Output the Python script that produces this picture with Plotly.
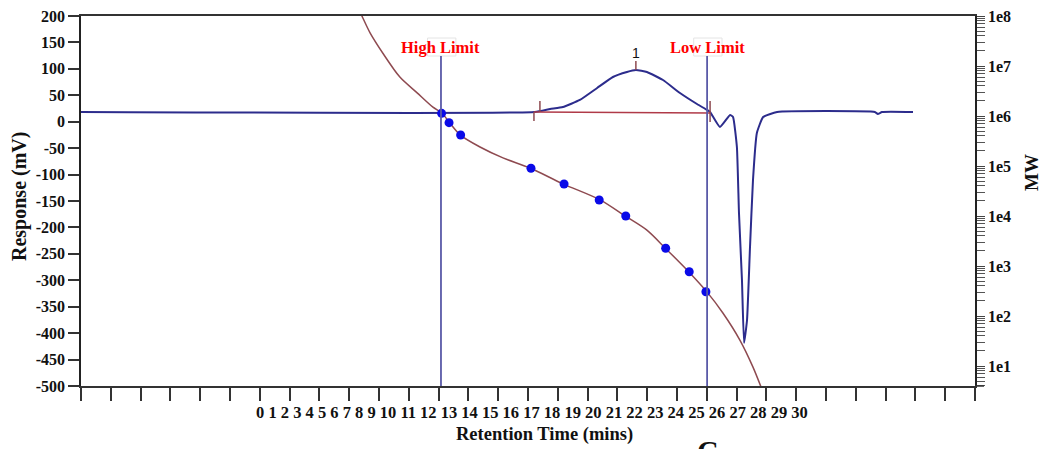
import plotly.graph_objects as go

# ---------------- data ----------------
# chromatogram (Retention time in minutes, response in mV)
chrom_time = [0, 15.23, 15.74, 16.17, 16.74, 17.32, 17.85, 18.32, 18.62, 18.99, 19.53,
              20.10, 20.67, 21.01, 21.11, 21.44, 21.78, 21.88, 22.01, 22.08, 22.18,
              22.25, 22.35, 22.45, 22.55, 22.68, 22.89, 23.36, 26.64, 26.74, 26.88, 27.92]
chrom_mv = [18.4, 18.4, 24.0, 27.8, 41.1, 63.8, 84.6, 94.1, 97.8, 94.1, 78.9,
            54.3, 33.5, 22.2, 18.4, -10.0, 12.7, 8.9, -47.8, -172.7, -299.5,
            -418.7, -375.1, -237.0, -110.3, -21.3, 8.9, 18.4, 18.4, 14.6, 18.4, 18.4]

# integration baseline of peak 1
intbase_time = [15.20, 21.11]
intbase_mv = [18.4, 16.5]

# integration tick markers (time, top mV, bottom mV)
mark_time = [15.20, 15.40, 18.62, 21.11]
mark_top = [18.4, 39.2, 114.9, 39.2]
mark_bottom = [1.3, 18.4, 97.8, -0.5]
peak_label = "1"
peak_label_mv = 130.0

# calibration curve (MW, log scale)
calib_time = [9.26, 9.42, 9.70, 10.13, 10.70, 11.28, 11.81, 12.11, 12.38, 12.72, 13.39,
              14.16, 15.07, 16.17, 17.42, 18.26, 18.99, 19.60, 20.40, 21.01, 21.54,
              22.11, 22.55, 22.82]
calib_mw = [1.6e8, 1.02e8, 4.6e7, 1.8e7, 6.0e6, 2.9e6, 1.5e6, 1.15e6, 7.2e5, 4.2e5, 2.4e5,
            1.45e5, 9.1e4, 4.4e4, 2.1e4, 1.0e4, 5.2e3, 2.3e3, 760, 300, 115,
            33, 9.5, 3.8]

# calibration standards
std_time = [12.10, 12.35, 12.74, 15.10, 16.21, 17.39, 18.28, 19.62, 20.41, 20.97]
std_mw = [1.13e6, 7.35e5, 4.17e5, 9.0e4, 4.37e4, 2.09e4, 1.0e4, 2.26e3, 769, 306]

# limits
limit_time = [12.08, 21.01]
limit_text = ["High Limit", "Low Limit"]

# ticks
x_ticks = list(range(0, 31))
x_tick_labels = [str(v) for v in range(0, 31)]
y_ticks = list(range(-500, 201, 50))
y_tick_labels = [str(v) for v in y_ticks]
mw_ticks = [1e1, 1e2, 1e3, 1e4, 1e5, 1e6, 1e7, 1e8]
mw_tick_labels = ["1e1", "1e2", "1e3", "1e4", "1e5", "1e6", "1e7", "1e8"]
mw_minor = [k * 10 ** n for n in range(0, 8) for k in range(2, 10)]

# ---------------- styling ----------------
W, H = 1047, 449
L, R, T, B = 81, 975, 16, 386
SERIF = "Liberation Serif"
NAVY = "#2c2c8c"
LIMIT = "#5a5aa8"
BROWN = "#8e4a50"
REDBASE = "#b03a48"
DOT = "#0a0ae8"


def px_x(p):
    return (p - L) / (R - L)


def px_y(p):
    return (B - p) / (B - T)


fig = go.Figure()

# calibration curve
fig.add_trace(go.Scatter(x=calib_time, y=calib_mw, yaxis="y2", mode="lines",
                         line=dict(color=BROWN, width=1.5, shape="spline", smoothing=0.8),
                         hoverinfo="skip", showlegend=False))

# chromatogram
fig.add_trace(go.Scatter(x=chrom_time, y=chrom_mv, mode="lines",
                         line=dict(color=NAVY, width=2, shape="spline", smoothing=0.4),
                         showlegend=False))

# integration baseline
fig.add_trace(go.Scatter(x=intbase_time, y=intbase_mv, mode="lines",
                         line=dict(color=REDBASE, width=1.5), showlegend=False))

# integration markers
mx, my = [], []
for t, a, b in zip(mark_time, mark_top, mark_bottom):
    mx += [t, t, None]
    my += [a, b, None]
fig.add_trace(go.Scatter(x=mx, y=my, mode="lines",
                         line=dict(color=BROWN, width=1.5), showlegend=False))

# calibration standards
fig.add_trace(go.Scatter(x=std_time, y=std_mw, yaxis="y2", mode="markers",
                         marker=dict(color=DOT, size=9), showlegend=False))

# limit lines + labels
for t, txt in zip(limit_time, limit_text):
    fig.add_shape(type="rect", xref="x", yref="paper",
                  x0=t - 0.45, x1=t + 0.5, y0=px_y(56), y1=px_y(38),
                  line=dict(color="#e4e4e4", width=1), fillcolor="rgba(255,255,255,0)",
                  layer="below")
    fig.add_shape(type="line", xref="x", yref="paper", x0=t, x1=t,
                  y0=0, y1=px_y(56), line=dict(color=LIMIT, width=1.8))
    fig.add_annotation(x=t, y=px_y(47), xref="x", yref="paper", text=txt,
                       showarrow=False, xanchor="center", yanchor="middle",
                       font=dict(family=SERIF, size=16.5, color="#ff0000", weight="bold"))

# short extension of the time axis past the MW axis
fig.add_shape(type="line", xref="paper", yref="paper", x0=1, x1=px_x(984), y0=0, y1=0,
              line=dict(color="#333", width=1.5))

# peak label
fig.add_annotation(x=mark_time[2], y=peak_label_mv, xref="x", yref="y", text=peak_label,
                   showarrow=False, xanchor="center", yanchor="middle",
                   font=dict(family="Liberation Sans", size=14, color="#111"))

# x tick labels (crowded string as in the original)
fig.add_annotation(x=px_x(532), y=px_y(412), xref="paper", yref="paper",
                   text=" ".join(x_tick_labels), showarrow=False,
                   xanchor="center", yanchor="middle",
                   font=dict(family=SERIF, size=16.5, color="#111", weight="bold"))

# axis titles
fig.add_annotation(x=px_x(544), y=px_y(434), xref="paper", yref="paper",
                   text="Retention Time (mins)", showarrow=False,
                   xanchor="center", yanchor="middle",
                   font=dict(family=SERIF, size=18.5, color="#111", weight="bold"))
fig.add_annotation(x=px_x(19), y=px_y(196), xref="paper", yref="paper",
                   text="Response (mV)", showarrow=False, textangle=-90,
                   xanchor="center", yanchor="middle",
                   font=dict(family=SERIF, size=20, color="#111", weight="bold"))
fig.add_annotation(x=px_x(1031), y=px_y(173), xref="paper", yref="paper",
                   text="MW", showarrow=False, textangle=-90,
                   xanchor="center", yanchor="middle",
                   font=dict(family=SERIF, size=19, color="#111", weight="bold"))
fig.add_annotation(x=px_x(708), y=px_y(432), xref="paper", yref="paper",
                   text="C", showarrow=False, xanchor="center", yanchor="top",
                   font=dict(family=SERIF, size=30, color="#111", weight="bold"))

tickfont = dict(family=SERIF, size=16, color="#111", weight="bold")

fig.update_layout(
    width=W, height=H,
    margin=dict(l=L, r=W - R, t=T, b=H - B, autoexpand=False),
    paper_bgcolor="white", plot_bgcolor="white",
    showlegend=False,
    xaxis=dict(range=[0, 30], tickmode="array", tickvals=x_ticks, showticklabels=False,
               ticks="outside", ticklen=13, tickwidth=1.5, tickcolor="#333",
               showline=True, linecolor="#333", linewidth=1.5, mirror=True,
               showgrid=False, zeroline=False, automargin=False),
    yaxis=dict(range=[-500, 200], tickmode="array", tickvals=y_ticks, ticktext=y_tick_labels,
               ticks="outside", ticklen=11, tickwidth=1.5, tickcolor="#333",
               showline=True, linecolor="#222", linewidth=1.5,
               tickfont=tickfont, showgrid=False, zeroline=False, automargin=False),
    yaxis2=dict(type="log", range=[0.6, 8], overlaying="y", side="right",
                tickmode="array", tickvals=mw_ticks, ticktext=mw_tick_labels,
                ticks="outside", ticklen=8, tickwidth=1.2, tickcolor="#444",
                minor=dict(tickmode="array", tickvals=mw_minor, ticks="outside",
                           ticklen=8, tickwidth=1, tickcolor="#555"),
                showline=True, linecolor="#222", linewidth=1.5,
                tickfont=tickfont, showgrid=False, zeroline=False, automargin=False),
)

fig.write_html("out.html",
               config={"displayModeBar": False},
               post_script="document.body.style.margin='0px';"
                           "document.body.style.overflow='hidden';")
